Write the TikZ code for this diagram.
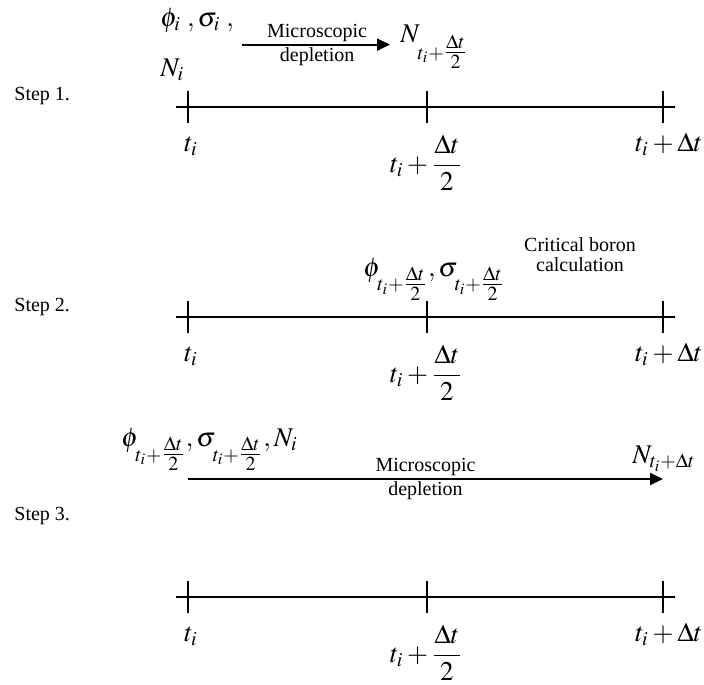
\documentclass[tikz,border=0pt]{standalone}
\usepackage{amsmath}
\usepackage{mathptmx}
\usepackage[no-math]{fontspec}
\setmainfont{Liberation Serif}
\usetikzlibrary{arrows.meta,positioning}
\newcommand{\HalfSub}[1][3pt]{\raisebox{-#1}{$\scriptstyle t_i+\genfrac{}{}{}{1}{\Delta t}{2}$}}
\newcommand{\StepAxis}[2]{%
  \draw[axisline] (176,#2) -- (675,#2);
  \foreach \x in {188,427,663} {
    \draw[axisline] (\x,#2-16) -- (\x,#2+16);
  }
  \node[mathlbl,anchor=base west] (tl#1) at (184,#2+44) {$t_i$};
  \node[mathlbl,anchor=north] (tm#1) at (426,#2+28)
    {$t_i+\dfrac{\rule[-1.5pt]{0pt}{0pt}\Delta t}{\rule{0pt}{10pt}2}$};
  \node[mathlbl,anchor=base west] (tr#1) at (635,#2+44) {$t_i+\Delta t$};
}

\begin{document}
\begin{tikzpicture}[x=0.5pt,y=-0.5pt,
  axisline/.style={line width=1pt},
  flow/.style={line width=1pt,-{Triangle[length=6.5pt,width=6pt]}},
  mathlbl/.style={inner sep=0pt,font=\fontsize{13.5}{16}\selectfont},
  textlbl/.style={inner sep=1pt,font=\fontsize{10}{11}\selectfont,align=center},
  steplbl/.style={anchor=west,inner sep=0pt,font=\fontsize{10}{12}\selectfont}]
\useasboundingbox (0,0) rectangle (704,684);

% step 1
\node[steplbl] (s1) at (14,96) {Step 1.};
\StepAxis{1}{107}
\node[mathlbl,font=\fontsize{13.5}{25}\selectfont,align=left,anchor=north west] (src1) at (160,8)
  {$\phi_i\;,\sigma_i\;,$\\$N_i$};
\node[mathlbl,anchor=base west] (dst1) at (400,43) {$N_{\HalfSub[6pt]}$};
\draw[flow,shorten <=4pt,shorten >=5pt] (src1.east) -- (src1.east -| dst1.west)
  node[textlbl,midway,above] (mic1) {Microscopic}
  node[textlbl,midway,below] (dep1) {depletion};

% step 2
\node[steplbl] (s2) at (14,307) {Step 2.};
\StepAxis{2}{317}
\node[mathlbl,anchor=base west] (src2) at (363,276) {$\phi_{\HalfSub},\sigma_{\HalfSub}$};
\node[textlbl,font=\fontsize{10}{10}\selectfont] (crit2) at (580,255) {Critical boron\\calculation};

% step 3
\node[steplbl] (s3) at (14,516) {Step 3.};
\StepAxis{3}{597}
\node[mathlbl,anchor=base west] (src3) at (121,446) {$\phi_{\HalfSub},\sigma_{\HalfSub},N_i$};
\node[mathlbl,anchor=base west] (dst3) at (632,463) {$N_{t_i+\Delta t}$};
\coordinate (a3) at (188,479);
\coordinate (b3) at (663,479);
\draw[flow] (a3) -- (b3)
  node[textlbl,midway,above] (mic3) {Microscopic}
  node[textlbl,midway,below] (dep3) {depletion};
\end{tikzpicture}
\end{document}
